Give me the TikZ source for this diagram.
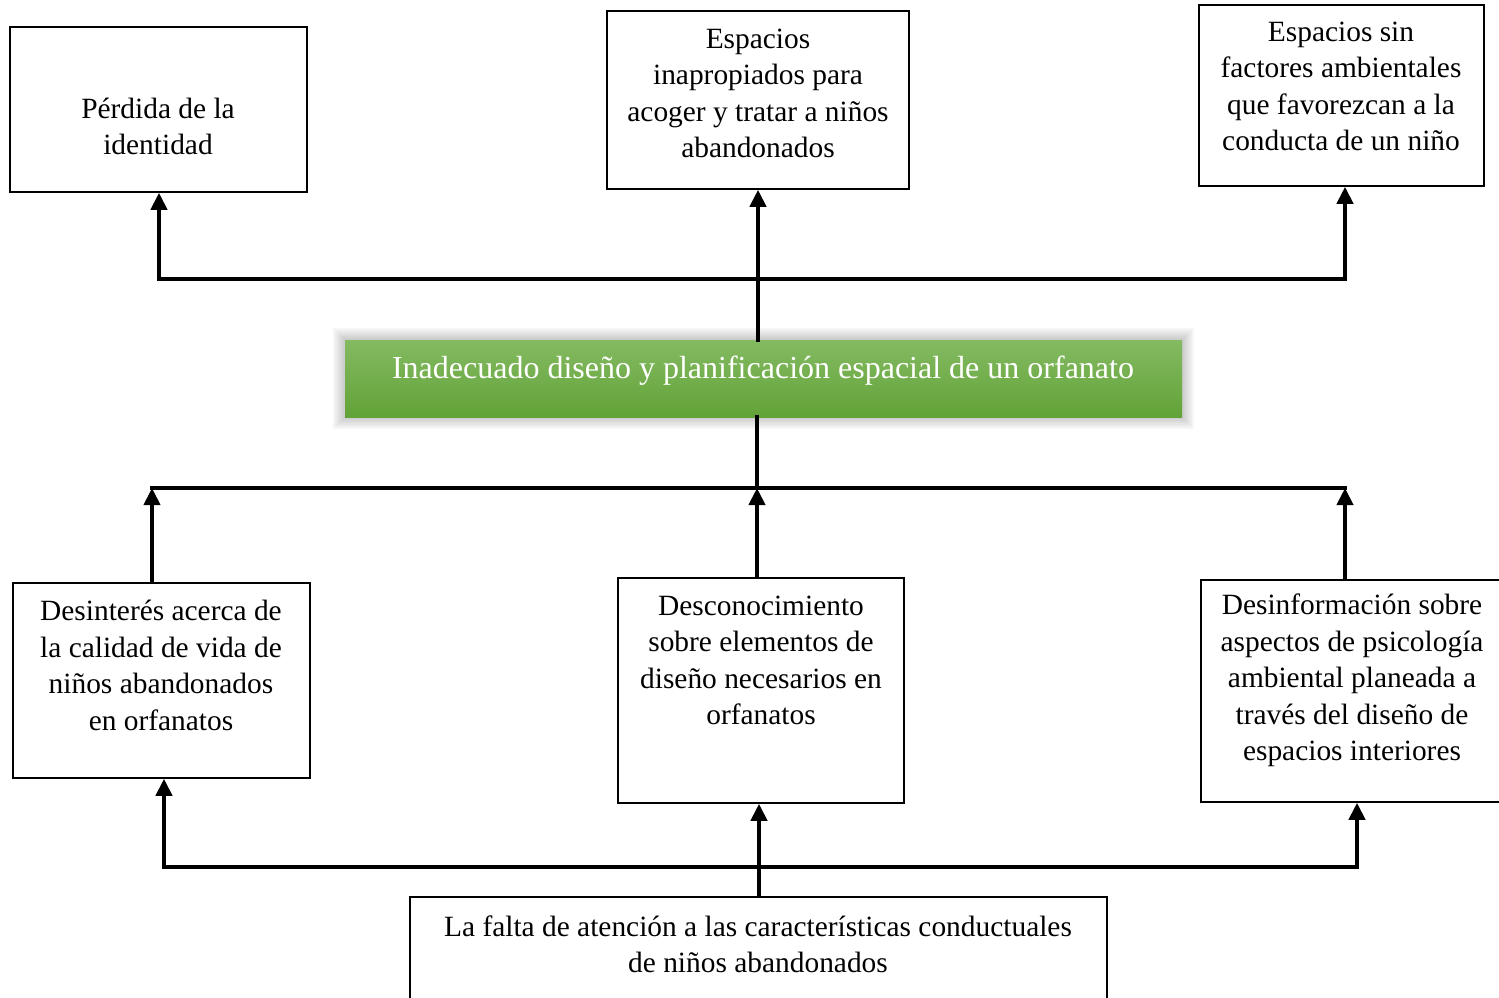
\documentclass[tikz,border=0pt]{standalone}
\usepackage{fontspec}
\setmainfont{Liberation Serif}
\usetikzlibrary{arrows.meta}
\definecolor{gtop}{RGB}{132,186,98}
\definecolor{gbot}{RGB}{98,163,55}
\begin{document}
\begin{tikzpicture}[x=0.5pt,y=-0.5pt,
  box/.style={draw=black,line width=0.75pt,inner sep=0pt},
  txt/.style={align=center,inner sep=0pt,font=\fontsize{14.7}{18.2}\selectfont},
  bus/.style={line width=2pt,line cap=rect},
  arr/.style={line width=2pt,line cap=rect,-{Triangle[length=8.5pt,width=8pt]}}]
\useasboundingbox (0,0) rectangle (1499,997);
\clip (0,0) rectangle (1499,997);
% boxes
\node[box,minimum width=148.5pt,minimum height=82.5pt] (A) at (158.5,109.5) {};
\node[box,minimum width=151pt,minimum height=89pt] (B) at (758,100) {};
\node[box,minimum width=142.5pt,minimum height=90.5pt] (C) at (1341.5,95.5) {};
\node[box,minimum width=148.5pt,minimum height=97.5pt] (D) at (161.5,680.5) {};
\node[box,minimum width=143pt,minimum height=112.5pt] (E) at (761,690.5) {};
\node[box,minimum width=159.5pt,minimum height=111pt] (F) at (1360.5,691) {};
\node[box,minimum width=348.5pt,minimum height=56.5pt] (G) at (758.5,953.5) {};
% green box with soft shadow
\foreach \d in {2,4,...,12}{
  \fill[black,opacity=0.035] (345-\d,340-\d) rectangle (1182+\d,417+\d);
}
\node[inner sep=0pt,minimum width=418.5pt,minimum height=38.5pt,
  top color=gtop,bottom color=gbot] (P) at (763.5,378.5) {};
% texts
\node[txt] (tA) at (158,126.5) {Pérdida de la\\identidad};
\node[txt] (tB) at (758,93.5) {Espacios\\inapropiados para\\acoger y tratar a niños\\abandonados};
\node[txt] (tC) at (1341,86.5) {Espacios sin\\factores ambientales\\que favorezcan a la\\conducta de un niño};
\node[txt,text=white,font=\fontsize{16}{18}\selectfont] (tP) at (763,371) {Inadecuado diseño y planificación espacial de un orfanato};
\node[txt] (tD) at (161,665.5) {Desinterés acerca de\\la calidad de vida de\\niños abandonados\\en orfanatos};
\node[txt] (tE) at (761,660.5) {Desconocimiento\\sobre elementos de\\diseño necesarios en\\orfanatos};
\node[txt] (tF) at (1352,680.5) {Desinformación sobre\\aspectos de psicología\\ambiental planeada a\\través del diseño de\\espacios interiores};
\node[txt] (tG) at (758,944) {La falta de atención a las características conductuales\\de niños abandonados};
% top level
\coordinate (t1) at (159,279);
\coordinate (t3) at (1345,279);
\coordinate (tm) at (758,279);
\draw[bus] (t1) -- (t3);
\draw[arr] (t1) -- (t1 |- A.south);
\draw[arr] (t3) -- (t3 |- C.south);
\draw[arr] (tm |- P.north) -- (tm |- B.south);
% middle level
\coordinate (m1) at (152,488);
\coordinate (m2) at (757,488);
\coordinate (m3) at (1345,488);
\draw[bus] (m1) -- (m3);
\draw[bus] (m2 |- P.south) -- (m2);
\draw[arr] (m1 |- D.north) -- (m1);
\draw[arr] (m2 |- E.north) -- (m2);
\draw[arr] (m3 |- F.north) -- (m3);
% bottom level
\coordinate (b1) at (164,867);
\coordinate (b2) at (759,867);
\coordinate (b3) at (1357,867);
\draw[bus] (b1) -- (b3);
\draw[arr] (b1) -- (b1 |- D.south);
\draw[arr] (b3) -- (b3 |- F.south);
\draw[arr] (b2 |- G.north) -- (b2 |- E.south);
\end{tikzpicture}
\end{document}
